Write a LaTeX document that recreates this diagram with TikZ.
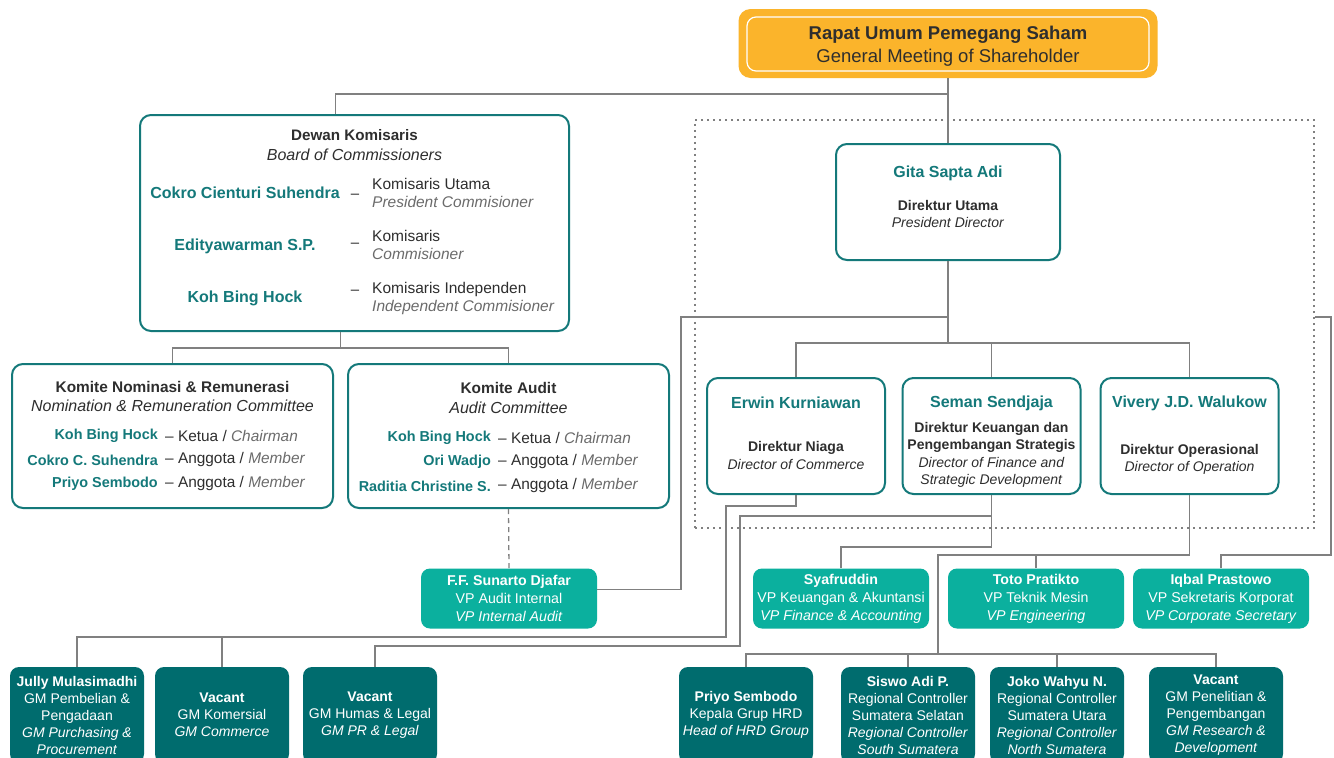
\documentclass[tikz,border=0pt]{standalone}
\usepackage{fontspec}
\setmainfont{Liberation Sans}

\definecolor{bodteal}{HTML}{14797A}
\definecolor{vpgreen}{HTML}{0BB09E}
\definecolor{gmteal}{HTML}{006C6E}
\definecolor{rupsorange}{HTML}{FBB42B}
\definecolor{linegray}{HTML}{808080}
\definecolor{txtdark}{HTML}{2E2E2E}
\definecolor{txtgray}{HTML}{6B6B6B}

\newcommand{\fs}[2]{\fontsize{#1}{#2}\selectfont}

\begin{document}
\begin{tikzpicture}[x=1pt,y=-1pt,
                    every node/.style={inner sep=0pt,text=txtdark},
                    box/.style={draw=bodteal,line width=2pt,rounded corners=11pt,fill=white},
                    dirbox/.style={box,minimum width=178pt,minimum height=116pt},
                    vpbox/.style={fill=vpgreen,rounded corners=9pt,minimum width=176pt,minimum height=60pt,
                                  text=white,align=center,font=\fs{14.2}{18}},
                    gmbox/.style={fill=gmteal,rounded corners=9pt,minimum width=134pt,minimum height=96pt,
                                  text=white,align=center,font=\fs{14}{17}},
                    conn/.style={draw=linegray,line width=1.3pt},
                    pname/.style={text=bodteal,font=\bfseries\fs{16}{19}},
                    mname/.style={text=bodteal,font=\bfseries\fs{14.4}{17},anchor=east},
                    mrole/.style={font=\fs{15.4}{17},anchor=west},
                    role/.style={anchor=west,align=left,font=\fs{15.5}{18}},
                    jab/.style={align=center,font=\fs{14}{17}}]
  \useasboundingbox (0,0) rectangle (1334,758);
  \fill[white] (0,0) rectangle (1334,758);
  \clip (0,0) rectangle (1334,758);

  % RUPS
  \node[fill=rupsorange,rounded corners=12pt,minimum width=419pt,minimum height=69pt] (rups) at (948,43.5) {};
  \node[draw=white,line width=1.2pt,rounded corners=9pt,minimum width=402pt,minimum height=54pt] (rupsf) at (948,44) {};
  \node[align=center,font=\fs{18.5}{23}] (rupst) at (948,46.5)
       {\textbf{Rapat Umum Pemegang Saham}\\General Meeting of Shareholder};

  % group of directors
  \node[draw=linegray,line width=1.6pt,dash pattern=on 1.6pt off 4.4pt,
        minimum width=619pt,minimum height=408pt] (bod) at (1004.5,324) {};

  % Dewan Komisaris
  \node[box,minimum width=429pt,minimum height=216pt] (board) at (354.5,223) {};
  \node[font=\bfseries\fs{15.2}{18}] (boardt) at (354.5,135) {Dewan Komisaris};
  \node[font=\itshape\fs{16}{18}] (boarde) at (354.5,155) {Board of Commissioners};
  \node[pname] (kom1) at (245,193) {Cokro Cienturi Suhendra};
  \node[pname] (kom2) at (245,246) {Edityawarman S.P.};
  \node[pname] (kom3) at (245,298) {Koh Bing Hock};
  \node[font=\fs{15}{18}] (dash1) at (355,196) {–};
  \node[font=\fs{15}{18}] (dash2) at (355,245) {–};
  \node[font=\fs{15}{18}] (dash3) at (355,292) {–};
  \node[role] (rol1) at (372,193) {Komisaris Utama\\\textit{\color{txtgray}President Commisioner}};
  \node[role] (rol2) at (372,245) {Komisaris\\\textit{\color{txtgray}Commisioner}};
  \node[role] (rol3) at (372,298) {Komisaris Independen\\\textit{\color{txtgray}Independent Commisioner}};

  % Komite
  \node[box,minimum width=321pt,minimum height=144pt] (kn) at (172.5,436) {};
  \node[font=\bfseries\fs{15.4}{18}] (knt) at (172.5,387) {Komite Nominasi \& Remunerasi};
  \node[font=\itshape\fs{16}{18}] (kne) at (172.5,406) {Nomination \& Remuneration Committee};
  \node[mname] (kn1) at (158,436) {Koh Bing Hock};
  \node[mname] (kn2) at (158,460) {Cokro C. Suhendra};
  \node[mname] (kn3) at (158,484) {Priyo Sembodo};
  \node[mrole] (knr1) at (165,436) {– Ketua / \textit{\color{txtgray}Chairman}};
  \node[mrole] (knr2) at (165,460) {– Anggota / \textit{\color{txtgray}Member}};
  \node[mrole] (knr3) at (165,484) {– Anggota / \textit{\color{txtgray}Member}};

  \node[box,minimum width=321pt,minimum height=144pt] (ka) at (508.5,436) {};
  \node[font=\bfseries\fs{15.4}{18}] (kat) at (508.5,388) {Komite Audit};
  \node[font=\itshape\fs{16}{18}] (kae) at (508.5,408) {Audit Committee};
  \node[mname] (ka1) at (491,438) {Koh Bing Hock};
  \node[mname] (ka2) at (491,462) {Ori Wadjo};
  \node[mname] (ka3) at (491,486) {Raditia Christine S.};
  \node[mrole] (kar1) at (498,438) {– Ketua / \textit{\color{txtgray}Chairman}};
  \node[mrole] (kar2) at (498,462) {– Anggota / \textit{\color{txtgray}Member}};
  \node[mrole] (kar3) at (498,486) {– Anggota / \textit{\color{txtgray}Member}};

  % Direksi
  \node[box,minimum width=224pt,minimum height=116pt] (gita) at (948,202) {};
  \node[pname] (gitan) at (948,173) {Gita Sapta Adi};
  \node[jab] (gitaj) at (948,214) {\textbf{Direktur Utama}\\\textit{President Director}};

  \node[dirbox] (erwin) at (796,436) {};
  \node[pname] (erwinn) at (796,403) {Erwin Kurniawan};
  \node[jab,font=\fs{14}{18}] (erwinj) at (796,455) {\textbf{Direktur Niaga}\\\textit{Director of Commerce}};

  \node[dirbox] (seman) at (991.5,436) {};
  \node[pname] (semann) at (991.5,403) {Seman Sendjaja};
  \node[jab,font=\fs{14}{17.3}] (semanj) at (991.5,455)
       {\textbf{Direktur Keuangan dan}\\\textbf{Pengembangan Strategis}\\\textit{Director of Finance and}\\\textit{Strategic Development}};

  \node[dirbox] (vivery) at (1189.5,436) {};
  \node[pname] (viveryn) at (1189.5,403) {Vivery J.D. Walukow};
  \node[jab] (viveryj) at (1189.5,459) {\textbf{Direktur Operasional}\\\textit{Director of Operation}};

  % VP
  \node[vpbox] (vpa) at (509,598.5) {\textbf{F.F. Sunarto Djafar}\\VP Audit Internal\\\textit{VP Internal Audit}};
  \node[vpbox] (syaf) at (841,598.5) {\textbf{Syafruddin}\\VP Keuangan \& Akuntansi\\\textit{VP Finance \& Accounting}};
  \node[vpbox] (toto) at (1036,598.5) {\textbf{Toto Pratikto}\\VP Teknik Mesin\\\textit{VP Engineering}};
  \node[vpbox] (iqbal) at (1221,598.5) {\textbf{Iqbal Prastowo}\\VP Sekretaris Korporat\\\textit{VP Corporate Secretary}};

  % GM
  \node[gmbox] (gmp) at (77,715) {\textbf{Jully Mulasimadhi}\\GM Pembelian \&\\Pengadaan\\\textit{GM Purchasing \&}\\\textit{Procurement}};
  \node[gmbox] (gmk) at (222,715) {\textbf{Vacant}\\GM Komersial\\\textit{GM Commerce}};
  \node[gmbox] (gmh) at (370,715) {\textbf{Vacant}\\GM Humas \& Legal\\\textit{GM PR \& Legal}};
  \node[gmbox] (gmhrd) at (746,715) {\textbf{Priyo Sembodo}\\Kepala Grup HRD\\\textit{Head of HRD Group}};
  \node[gmbox] (gms) at (908,715) {\textbf{Siswo Adi P.}\\Regional Controller\\Sumatera Selatan\\\textit{Regional Controller}\\\textit{South Sumatera}};
  \node[gmbox] (gmj) at (1057,715) {\textbf{Joko Wahyu N.}\\Regional Controller\\Sumatera Utara\\\textit{Regional Controller}\\\textit{North Sumatera}};
  \node[gmbox] (gmrd) at (1216,715) {\textbf{Vacant}\\GM Penelitian \&\\Pengembangan\\\textit{GM Research \&}\\\textit{Development}};

  % bend points
  \coordinate (auditbend) at (681,317);
  \coordinate (secbend) at (1331,555);
  \coordinate (niagabend) at (726,506);
  \coordinate (humasbend) at (740,646);
  \coordinate (opsbend) at (938,654);

  % connectors
  \draw[conn] (rups.south) -- (gita.north);
  \draw[conn] (rups.south |- 0,94) -| ([xshift=-19pt]board.north);
  \draw[conn] ([xshift=-14pt]board.south) -- ++(0,16) coordinate (kbend);
  \draw[conn] (kn.north) |- (kbend) -| (ka.north);
  \draw[conn,dash pattern=on 5pt off 4pt] (ka.south) -- (vpa.north);
  \draw[conn] ([yshift=9pt]vpa.east) -| (auditbend) -- (gita.south |- auditbend);
  \draw[conn] (gita.south) -- (gita.south |- 0,343) coordinate (dbend);
  \draw[conn] (erwin.north) |- (dbend) -| (vivery.north);
  \draw[conn] (seman.north) -- (seman.north |- dbend);
  \draw[conn] ([yshift=7pt]bod.east) -| (secbend) -| (iqbal.north);

  \draw[conn] (erwin.south) |- (niagabend) |- (gmk.north |- 0,637) -| (gmp.north);
  \draw[conn] (gmk.north) -- (gmk.north |- 0,637);
  \draw[conn] (seman.south) -- (seman.south |- 0,547) -| (syaf.north);
  \draw[conn] (seman.south |- 0,516) -| (humasbend) -| ([xshift=5pt]gmh.north);
  \draw[conn] (vivery.south) -- (vivery.south |- 0,555) -| (opsbend);
  \draw[conn] (toto.north) -- (toto.north |- 0,555);
  \draw[conn] (gmhrd.north) |- (opsbend) -| (gmrd.north);
  \draw[conn] (gms.north) -- (gms.north |- opsbend);
  \draw[conn] (gmj.north) -- (gmj.north |- opsbend);
\end{tikzpicture}
\end{document}
